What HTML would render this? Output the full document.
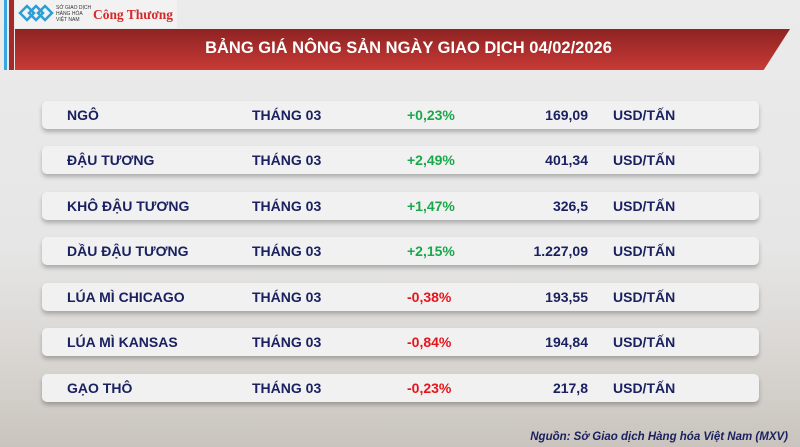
<!DOCTYPE html>
<html><head><meta charset="utf-8"><style>
body{margin:0;width:800px;height:447px;overflow:hidden;font-family:"Liberation Sans",sans-serif;
background:linear-gradient(180deg,#ebebeb 0%,#e6e6e6 55%,#d9d6d2 80%,#c9c4bd 100%);position:relative}
.lb{position:absolute;left:4px;top:0;width:3px;height:70px;background:#3aa6e0}
.lr{position:absolute;left:9px;top:0;width:5px;height:70px;background:#a8292a}
.logo{position:absolute;left:15px;top:0;width:162px;height:28px;background:#f2f2f2}
.ban{position:absolute;left:15px;top:29px;width:775px;height:41px;background:linear-gradient(180deg,#8e2322,#c73a36);
clip-path:polygon(0 0,100% 0,96.6% 100%,0 100%);}
.ban span{position:absolute;left:12px;right:0;top:10px;text-align:center;color:#fff;font-weight:bold;font-size:16.5px}
.row{position:absolute;left:42px;width:717px;height:28px;background:#f1f1f1;border-radius:5px;box-shadow:0 3px 4px rgba(0,0,0,.25);
font-weight:bold;font-size:14px;color:#1b2160}
.row div{position:absolute;top:6px}
.n{left:25px}.t{left:210px}.p{left:365px}.v{right:171px;text-align:right}.u{left:571px}
.g{color:#19a84a}.r{color:#e8141b}
.src{position:absolute;right:12px;top:431px;font-size:11.5px;font-style:italic;font-weight:bold;color:#1b2160}
</style></head><body>
<div class="lb"></div><div class="lr"></div>
<div class="logo"><svg width="162" height="28"><g fill="none" stroke="#2a9fd6" stroke-width="2.5"><path d="M5 13l7-7 7 7-7 7z"/><path d="M14 13l7-7 7 7-7 7z"/><path d="M23 13l7-7 7 7-7 7z"/></g>
<text x="41" y="9" font-size="5" fill="#333" font-family="Liberation Sans">SỞ GIAO DỊCH</text><text x="41" y="15" font-size="5" fill="#333" font-family="Liberation Sans">HÀNG HÓA</text><text x="41" y="21" font-size="5" fill="#333" font-family="Liberation Sans">VIỆT NAM</text>
<text x="78" y="19" font-size="14" fill="#d7282a" font-weight="bold" font-family="Liberation Serif" textLength="80" lengthAdjust="spacingAndGlyphs">Công Thương</text></svg></div>
<div class="ban"><span>BẢNG GIÁ NÔNG SẢN NGÀY GIAO DỊCH 04/02/2026</span></div>

<div class="row" style="top:101px"><div class="n">NGÔ</div><div class="t">THÁNG 03</div><div class="p g">+0,23%</div><div class="v">169,09</div><div class="u">USD/TẤN</div></div>
<div class="row" style="top:146px"><div class="n">ĐẬU TƯƠNG</div><div class="t">THÁNG 03</div><div class="p g">+2,49%</div><div class="v">401,34</div><div class="u">USD/TẤN</div></div>
<div class="row" style="top:192px"><div class="n">KHÔ ĐẬU TƯƠNG</div><div class="t">THÁNG 03</div><div class="p g">+1,47%</div><div class="v">326,5</div><div class="u">USD/TẤN</div></div>
<div class="row" style="top:237px"><div class="n">DẦU ĐẬU TƯƠNG</div><div class="t">THÁNG 03</div><div class="p g">+2,15%</div><div class="v">1.227,09</div><div class="u">USD/TẤN</div></div>
<div class="row" style="top:283px"><div class="n">LÚA MÌ CHICAGO</div><div class="t">THÁNG 03</div><div class="p r">-0,38%</div><div class="v">193,55</div><div class="u">USD/TẤN</div></div>
<div class="row" style="top:328px"><div class="n">LÚA MÌ KANSAS</div><div class="t">THÁNG 03</div><div class="p r">-0,84%</div><div class="v">194,84</div><div class="u">USD/TẤN</div></div>
<div class="row" style="top:374px"><div class="n">GẠO THÔ</div><div class="t">THÁNG 03</div><div class="p r">-0,23%</div><div class="v">217,8</div><div class="u">USD/TẤN</div></div>
<div class="src">Nguồn: Sở Giao dịch Hàng hóa Việt Nam (MXV)</div>
</body></html>
